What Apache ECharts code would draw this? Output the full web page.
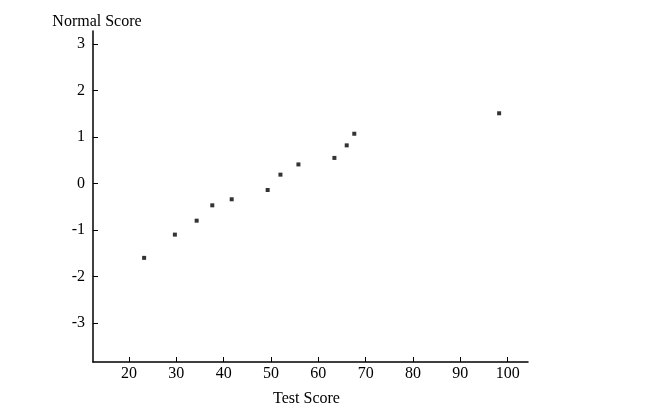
<!DOCTYPE html>
<html><head><meta charset="utf-8">
<script src="https://cdn.jsdelivr.net/npm/echarts@6/dist/echarts.min.js"></script>
<style>html,body{margin:0;padding:0;background:#fff}#c{width:650px;height:408px}</style>
</head><body><div id="c"></div>
<script>
const testScores = [23.2, 29.7, 34.3, 37.6, 41.7, 49.3, 52.0, 55.8, 63.4, 66.0, 67.6, 98.2];
const normalScores = [-1.60, -1.10, -0.80, -0.47, -0.34, -0.14, 0.19, 0.41, 0.55, 0.82, 1.07, 1.51];
const xTicks = [20, 30, 40, 50, 60, 70, 80, 90, 100];
const yTicks = [-3, -2, -1, 0, 1, 2, 3];

const font = 'Liberation Serif';
const chart = echarts.init(document.getElementById('c'));
chart.setOption({
  animation: false,
  grid: {left: 93, right: 122, top: 31, bottom: 46, containLabel: false, outerBoundsMode: 'none'},
  xAxis: {
    type: 'value', min: 12.4, max: 104.3,
    name: 'Test Score', nameLocation: 'middle', nameGap: 29,
    nameTextStyle: {fontFamily: font, fontSize: 16, color: '#000', padding: [0, 8, 0, 0]},
    axisLine: {show: true, onZero: false, lineStyle: {color: '#000', width: 1.5}},
    axisTick: {show: true, inside: true, length: 5, customValues: xTicks, lineStyle: {color: '#000'}},
    axisLabel: {customValues: xTicks, fontFamily: font, fontSize: 16, color: '#000', margin: 4},
    splitLine: {show: false}
  },
  yAxis: {
    type: 'value', min: -3.84, max: 3.28,
    name: 'Normal Score', nameLocation: 'end', nameGap: 1,
    nameTextStyle: {fontFamily: font, fontSize: 16, color: '#000', align: 'center', padding: [0, 0, 0, 8]},
    axisLine: {show: true, onZero: false, lineStyle: {color: '#000', width: 1.5}},
    axisTick: {show: true, inside: true, length: 5, customValues: yTicks, lineStyle: {color: '#000'}},
    axisLabel: {customValues: yTicks, fontFamily: font, fontSize: 16, color: '#000', margin: 8},
    splitLine: {show: false}
  },
  series: [{
    type: 'scatter',
    symbol: 'rect', symbolSize: 4,
    itemStyle: {color: '#000'},
    data: testScores.map((x, i) => [x, normalScores[i]])
  }]
});
</script></body></html>
